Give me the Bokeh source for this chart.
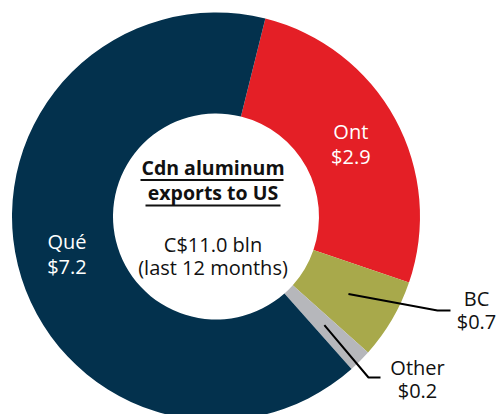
import math
from bokeh.plotting import figure
from bokeh.models import Range1d, ColumnDataSource
from bokeh.core.properties import value
from bokeh.embed import file_html
from bokeh.resources import INLINE

# ---- data ----
regions = ["Ont", "BC", "Other", "Qué"]
values = [2.9, 0.7, 0.2, 7.2]
value_labels = ["$2.9", "$0.7", "$0.2", "$7.2"]
colors = ["#E41F26", "#A8A94B", "#B6B7BB", "#03314D"]
center_title = ["Cdn aluminum", "exports to US"]
center_sub = ["C$11.0 bln", "(last 12 months)"]

W, H = 502, 414
CX, CY = 215.5, H - 216.0
R_OUT, R_IN = 204.0, 103.0
START_DEG = 76.0  # first boundary, 14 degrees clockwise from top
FONT = "Open Sans"

total = sum(values)
starts, ends, mids = [], [], []
acc = 0.0
for v in values:
    a0 = START_DEG - 360.0 * acc / total
    acc += v
    a1 = START_DEG - 360.0 * acc / total
    starts.append(math.radians(a0))
    ends.append(math.radians(a1))
    mids.append(math.radians((a0 + a1) / 2))

p = figure(width=W, height=H, x_range=Range1d(0, W), y_range=Range1d(0, H),
           output_backend="svg", toolbar_location=None, min_border=0)
p.axis.visible = False
p.grid.visible = False
p.outline_line_color = None
p.background_fill_color = "white"
p.border_fill_color = "white"

src = ColumnDataSource(dict(x=[CX] * 4, y=[CY] * 4, s=starts, e=ends, c=colors))
p.annular_wedge(x="x", y="y", inner_radius=R_IN, outer_radius=R_OUT,
                start_angle="s", end_angle="e", direction="clock",
                fill_color="c", line_color="white", line_width=0, line_alpha=0,
                source=src)

R_MID = (R_IN + R_OUT) / 2
FS = "20px"

# inside labels (Ont, Qué)
for i in (0, 3):
    lx = CX + R_MID * math.cos(mids[i])
    ly = CY + R_MID * math.sin(mids[i])
    p.text(x=[lx, lx], y=[ly + 12, ly - 13], text=[regions[i], value_labels[i]],
           text_color="white", text_align="center", text_baseline="middle",
           text_font=value(FONT), text_font_size=FS)

# outside labels with leaders (BC, Other)
outside = {1: ((437, H - 310), (450, H - 310), (476, H - 298)),
           2: ((368, H - 377), (380, H - 377), (417, H - 367))}
for i, (elbow, end, lab) in outside.items():
    sx = CX + R_MID * math.cos(mids[i])
    sy = CY + R_MID * math.sin(mids[i])
    p.line(x=[sx, elbow[0], end[0]], y=[sy, elbow[1], end[1]],
           line_color="black", line_width=2)
    p.text(x=[lab[0], lab[0]], y=[lab[1], lab[1] - 23], text=[regions[i], value_labels[i]],
           text_color="#111111", text_align="center", text_baseline="middle",
           text_font=value(FONT), text_font_size=FS)

# center text
title_y = [H - 167, H - 192]
p.text(x=[CX - 3, CX - 3], y=title_y, text=center_title,
       text_color="#111111", text_align="center", text_baseline="middle",
       text_font=value(FONT), text_font_size="19.5px", text_font_style="bold")
p.segment(x0=[140, 145], y0=[H - 179.5, H - 205], x1=[283, 280], y1=[H - 179.5, H - 205],
          line_color="#111111", line_width=1.8)
p.text(x=[CX - 3, CX - 3], y=[H - 244, H - 267], text=center_sub,
       text_color="#111111", text_align="center", text_baseline="middle",
       text_font=value(FONT), text_font_size="20px")

open("out.html", "w").write(file_html(p, INLINE))
